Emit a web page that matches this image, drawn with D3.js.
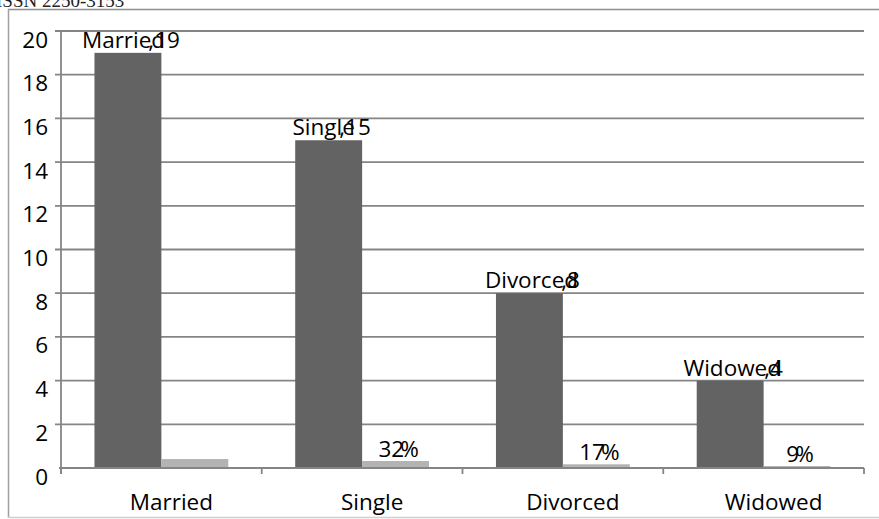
<!DOCTYPE html>
<html>
<head>
<meta charset="utf-8">
<script src="https://cdn.jsdelivr.net/npm/d3@7"></script>
<style>
  body { margin: 0; background: #fff; }
  svg { display: block; }
  .lbl { font-family: "Open Sans", sans-serif; fill: #000; }
</style>
</head>
<body>
<svg id="chart" width="879" height="519"></svg>
<script>
// Marital status of respondents: counts and share of total
const categories = ["Married", "Single", "Divorced", "Widowed"];
const counts = [19, 15, 8, 4];
const shares = [0.41, 0.32, 0.17, 0.09];
const shareLabelShown = [false, true, true, true];
const yTicks = [0, 2, 4, 6, 8, 10, 12, 14, 16, 18, 20];
const headerText = "ISSN 2250-3153";

const W = 879, H = 519;
const plot = { left: 61, right: 864, top: 31, bottom: 468 };
const FS = 22.5;
const gridColor = "#858585";
const darkBar = "#636363";
const lightBar = "#b3b3b3";

const svg = d3.select("#chart");

// journal header, partly cut off at the top edge
svg.append("text")
  .attr("x", -4).attr("y", 7)
  .style("font-family", "'Liberation Serif', serif")
  .style("font-size", "19px")
  .attr("fill", "#222")
  .text(headerText);

// chart frame
svg.append("line").attr("x1", 8).attr("x2", W).attr("y1", 9.5).attr("y2", 9.5)
  .attr("stroke", "#8f8f8f").attr("stroke-width", 1.5);
svg.append("line").attr("x1", 8.5).attr("x2", 8.5).attr("y1", 9).attr("y2", 518)
  .attr("stroke", "#a0a0a0").attr("stroke-width", 1.5);
svg.append("line").attr("x1", 8).attr("x2", W).attr("y1", 517.5).attr("y2", 517.5)
  .attr("stroke", "#cfcfcf").attr("stroke-width", 1.5);

const x = d3.scaleBand().domain(categories).range([plot.left, plot.right]).padding(0);
const sub = d3.scaleBand().domain(["count", "share"]).range([0, x.bandwidth()])
  .paddingInner(0).paddingOuter(0.5);
const y = d3.scaleLinear().domain([0, 20]).range([plot.bottom, plot.top]);

// horizontal gridlines
svg.append("g").selectAll("line")
  .data(yTicks.filter(d => d > 0))
  .join("line")
  .attr("x1", plot.left - 6).attr("x2", plot.right)
  .attr("y1", d => y(d)).attr("y2", d => y(d))
  .attr("stroke", gridColor).attr("stroke-width", 1.8);

// bars
const groups = svg.append("g").selectAll("g")
  .data(categories)
  .join("g")
  .attr("transform", d => `translate(${x(d)},0)`);

groups.append("rect")
  .attr("x", sub("count")).attr("width", sub.bandwidth())
  .attr("y", (d, i) => y(counts[i]))
  .attr("height", (d, i) => y(0) - y(counts[i]))
  .attr("fill", darkBar);

groups.append("rect")
  .attr("x", sub("share")).attr("width", sub.bandwidth())
  .attr("y", (d, i) => y(shares[i]))
  .attr("height", (d, i) => y(0) - y(shares[i]))
  .attr("fill", lightBar);

// axes lines
svg.append("line").attr("x1", plot.left - 2).attr("x2", plot.right)
  .attr("y1", y(0)).attr("y2", y(0))
  .attr("stroke", gridColor).attr("stroke-width", 1.8);
svg.append("line").attr("x1", plot.left).attr("x2", plot.left)
  .attr("y1", plot.top).attr("y2", y(0) + 6)
  .attr("stroke", gridColor).attr("stroke-width", 1.8);

// category boundary ticks
const bounds = categories.map(c => x(c)).concat([plot.right]);
svg.append("g").selectAll("line").data(bounds).join("line")
  .attr("x1", d => d).attr("x2", d => d)
  .attr("y1", y(0)).attr("y2", y(0) + 6)
  .attr("stroke", gridColor).attr("stroke-width", 1.8);

// y axis labels
const yAxis = svg.append("g")
  .attr("transform", `translate(${plot.left},0)`)
  .call(d3.axisLeft(y).tickValues(yTicks).tickFormat(d3.format("d")).tickSize(0));
yAxis.select(".domain").remove();
yAxis.selectAll("text")
  .attr("class", "lbl")
  .attr("x", -13).attr("dy", null).attr("y", 16)
  .style("font-size", FS + "px")
  .attr("font-family", null);

// x axis labels
const xAxis = svg.append("g")
  .attr("transform", `translate(10,${y(0)})`)
  .call(d3.axisBottom(x).tickSize(0));
xAxis.select(".domain").remove();
xAxis.selectAll("text")
  .attr("class", "lbl")
  .attr("dy", null).attr("y", 42)
  .style("font-size", FS + "px")
  .attr("font-family", null);

// value labels on the count bars: "Name,value" with the comma tucked under the last letter
groups.each(function (d, i) {
  const g = d3.select(this);
  const cx = sub("count") + sub.bandwidth() / 2 + 3;
  const by = y(counts[i]) - 5;
  const name = g.append("text").attr("class", "lbl").style("font-size", FS + "px")
    .attr("y", by).text(d);
  const val = g.append("text").attr("class", "lbl").style("font-size", FS + "px")
    .attr("y", by).text("," + counts[i]);
  const nameW = name.node().getComputedTextLength();
  const lastW = name.node().getSubStringLength(d.length - 1, 1);
  const valW = val.node().getComputedTextLength();
  const shift = lastW + 3;
  const total = nameW - shift + valW;
  const x0 = cx - total / 2;
  name.attr("x", x0);
  val.attr("x", x0 + nameW - shift);
});

// percentage labels on the share bars
groups.each(function (d, i) {
  if (!shareLabelShown[i]) return;
  const g = d3.select(this);
  const cx = sub("share") + sub.bandwidth() / 2 + 3;
  const by = y(shares[i]) - 4;
  const num = g.append("text").attr("class", "lbl").style("font-size", FS + "px")
    .attr("y", by).text(Math.round(shares[i] * 100));
  const pct = g.append("text").attr("class", "lbl").style("font-size", FS + "px")
    .attr("y", by).text("%");
  const numW = num.node().getComputedTextLength();
  const pctW = pct.node().getComputedTextLength();
  const overlap = 4;
  const total = numW - overlap + pctW;
  const x0 = cx - total / 2;
  num.attr("x", x0);
  pct.attr("x", x0 + numW - overlap);
});
</script>
</body>
</html>
